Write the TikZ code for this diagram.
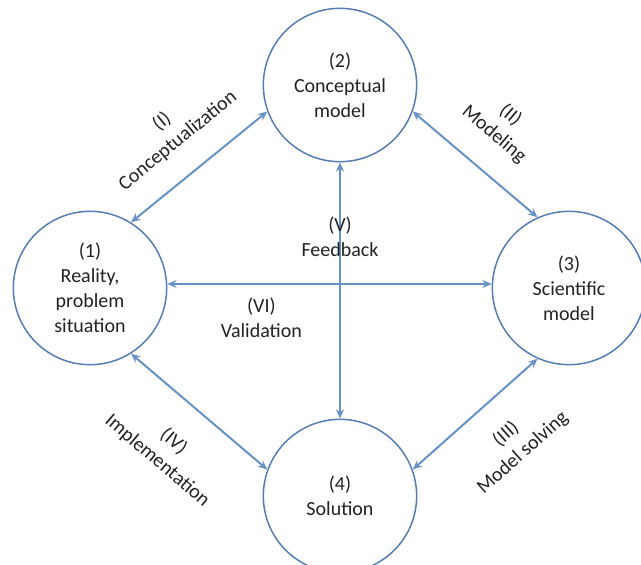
\documentclass[tikz,border=0pt]{standalone}
\usepackage{fontspec}
\setmainfont{Carlito}
\usetikzlibrary{arrows.meta}
\definecolor{ringblue}{RGB}{84,124,176}
\definecolor{arrowblue}{RGB}{104,146,196}
\definecolor{inkgray}{RGB}{35,35,35}

\begin{document}
\begin{tikzpicture}[x=0.75pt,y=0.75pt]
\tikzstyle{every node}+=[inner sep=0pt, text=inkgray, align=center, font=\fontsize{15}{18.75}\selectfont]
\tikzstyle{stage}=[draw=ringblue, line width=1.1pt, circle, minimum size=115pt]
\tikzstyle{link}=[draw=arrowblue, line width=1.5pt, >={Stealth[length=7pt,width=6pt]}, <->]
\fill [white] (0,0) rectangle (641,-564);
\useasboundingbox (0,0) rectangle (641,-564);
\node [stage] (c1) at (90,-288) {(1)\\Reality,\\problem\\situation};
\node [stage] (c2) at (340,-85) {(2)\\Conceptual\\model};
\node [stage] (c3) at (569,-288) {(3)\\Scientific\\model};
\node [stage] (c4) at (340,-496) {(4)\\Solution};
\draw [link] (c1.58) -- (c2.200) node [midway, sloped, above=18pt] {(I)\\Conceptualization};
\draw [link] (c2.340) -- (c3.114) node [pos=0.47, sloped, above=19pt] {(II)\\Modeling};
\draw [link] (c4.20) -- (c3.246) node [pos=0.56, sloped, below=19pt] {(III)\\Model solving};
\draw [link] (c1.302) -- (c4.160) node [midway, sloped, below=22pt] {(IV)\\Implementation};
\draw [link] (c2.south) -- (c4.north) node [pos=0.29] {(V)\\Feedback};
\draw [link] (c1.3) -- (c3.177) node [pos=0.29, below=10pt] {(VI)\\Validation};
\end{tikzpicture}
\end{document}
